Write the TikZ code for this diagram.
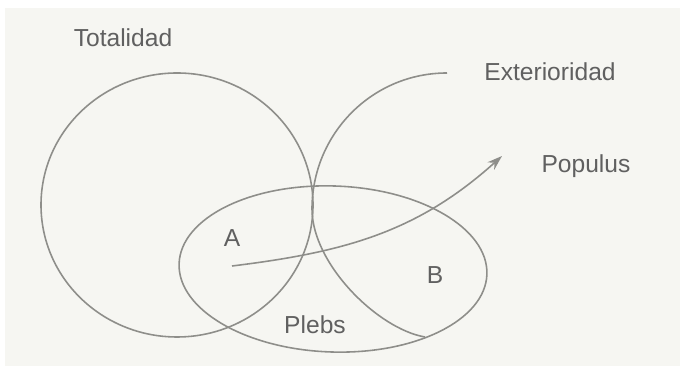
\documentclass[tikz,border=0pt]{standalone}
\usepackage{fontspec}
\setmainfont{Liberation Sans}
\usepackage{xcolor}
\usepackage{tikz}
\usetikzlibrary{arrows.meta}
\definecolor{linec}{HTML}{8E8E8A}
\definecolor{textc}{HTML}{606060}
\definecolor{paperc}{HTML}{F6F6F2}
\tikzset{
  ln/.style={linec,line width=0.9pt},
  ar/.style={ln,-{Stealth[length=3mm,width=2mm]}},
  lab/.style={text=textc,font=\fontsize{14}{16}\selectfont,inner sep=0pt}
}

\begin{document}
\begin{tikzpicture}[x=0.02cm,y=0.02cm]
\useasboundingbox (0,0) rectangle (680,374);
\fill[white] (0,0) rectangle (680,374);
\fill[paperc] (5,8) rectangle (680,366);
% the three sets
\draw[ln] (177,169) ellipse (136 and 132);
\draw[ln,rotate around={-2:(333,105)}] (333,105) ellipse (154 and 83);
\draw[ln] (447,301) .. controls (372,301) and (312,240) .. (312,165)
  .. controls (312,110) and (378,45) .. (425,37);
% labels
\node[lab] (tot) at (123,336) {Totalidad};
\node[lab] (ext) at (550,302) {Exterioridad};
\node[lab] (pop) at (586,208) {Populus};
\node[lab] (a) at (232,136) {A};
\node[lab] (b) at (435,99) {B};
\node[lab] (pleb) at (315,49) {Plebs};
% arrow
\coordinate (astart) at (232,108);
\coordinate (atip) at (502,218);
\draw[ar] (astart) to[out=7,in=222] (atip);
\end{tikzpicture}
\end{document}
